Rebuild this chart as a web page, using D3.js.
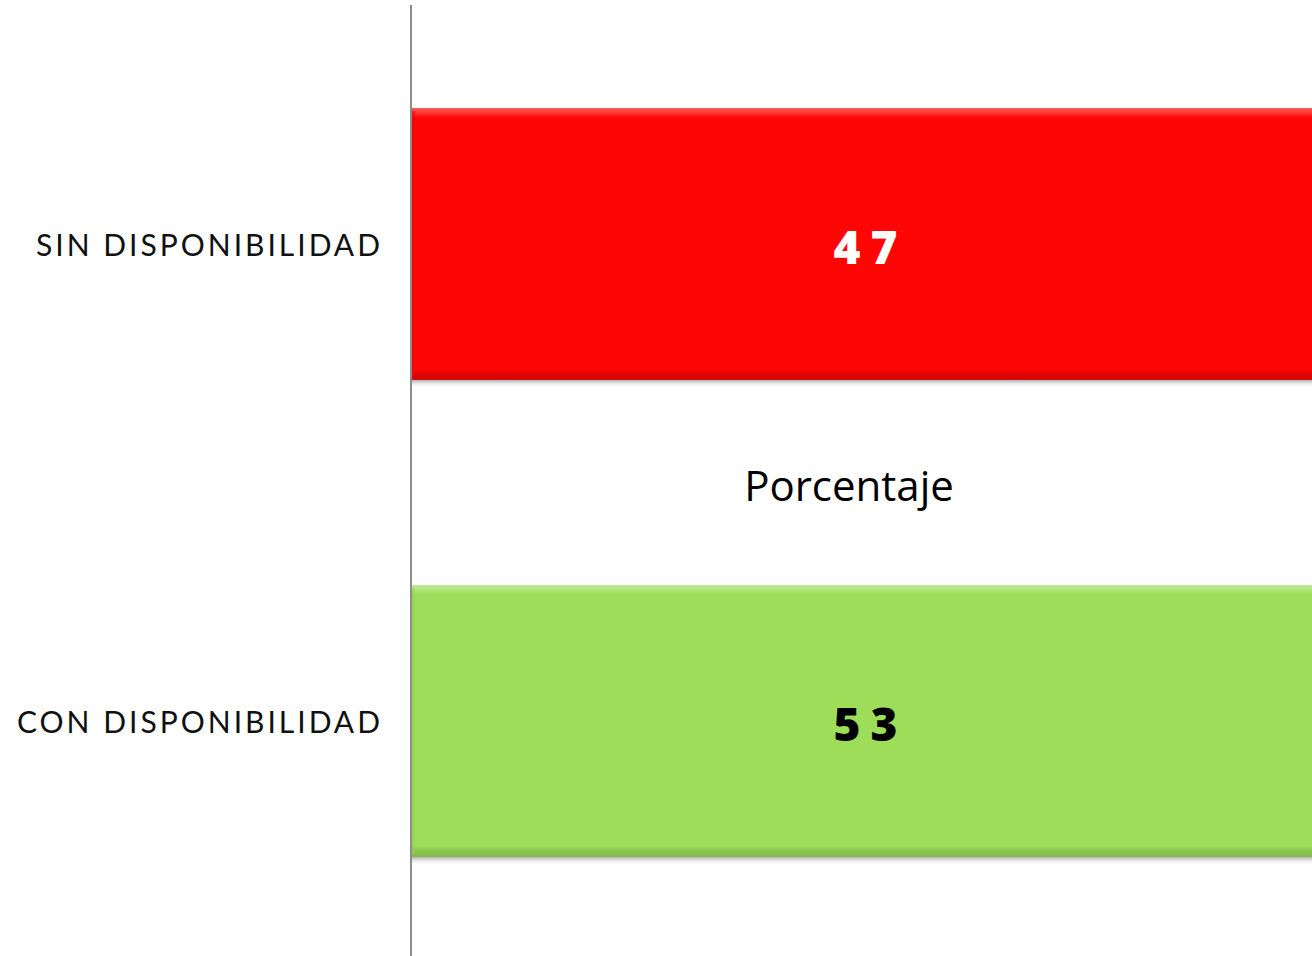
<!DOCTYPE html>
<html><head><meta charset="utf-8">
<script src="https://cdn.jsdelivr.net/npm/d3@7"></script>
<style>html,body{margin:0;padding:0;background:#fff;overflow:hidden}</style>
</head><body>
<svg id="c" width="1312" height="956"></svg>
<script>
const categories = ["SIN DISPONIBILIDAD", "CON DISPONIBILIDAD"];
const values = [47, 53];
const barColors = ["#FF0606", "#9EDD5A"];
const labelColors = ["#FFFFFF", "#000000"];
const legendLabel = "Porcentaje";

const W = 1312, H = 956;
const svg = d3.select("#c");
const defs = svg.append("defs");

const x = d3.scaleLinear().domain([0, 40]).range([411, W]);
const y = d3.scaleBand().domain(categories).range([5.5, 959.5]).paddingInner(0.43).paddingOuter(0.215);

function shade(c, k){ return d3.color(c).darker(k).formatHex(); }

categories.forEach((c,i)=>{
  const g = defs.append("linearGradient").attr("id","g"+i).attr("x1",0).attr("x2",0).attr("y1",0).attr("y2",1);
  const col = barColors[i];
  g.append("stop").attr("offset","0").attr("stop-color", d3.interpolateRgb(col,"#fff")(0.3));
  g.append("stop").attr("offset","0.012").attr("stop-color", d3.interpolateRgb(col,"#fff")(0.25));
  g.append("stop").attr("offset","0.035").attr("stop-color", col);
  g.append("stop").attr("offset","0.96").attr("stop-color", col);
  g.append("stop").attr("offset","0.975").attr("stop-color", shade(col,0.3));
  g.append("stop").attr("offset","1").attr("stop-color", shade(col,0.55));
  const sh = defs.append("linearGradient").attr("id","s"+i).attr("x1",0).attr("x2",0).attr("y1",0).attr("y2",1);
  sh.append("stop").attr("offset","0").attr("stop-color","#999").attr("stop-opacity",0.8);
  sh.append("stop").attr("offset","1").attr("stop-color","#fff").attr("stop-opacity",0);
});

const clip = defs.append("clipPath").attr("id","clip");
clip.append("rect").attr("x",0).attr("y",0).attr("width",W).attr("height",H);

const bars = svg.append("g").attr("clip-path","url(#clip)");
categories.forEach((c,i)=>{
  const y0 = y(c), bh = y.bandwidth();
  const x0 = x(0)+1, x1 = x(values[i]);
  bars.append("rect").attr("x",x0).attr("y",y0+bh).attr("width",x1-x0).attr("height",8).attr("fill","url(#s"+i+")");
  bars.append("rect").attr("x",x0).attr("y",y0).attr("width",x1-x0).attr("height",bh).attr("fill","url(#g"+i+")");
  bars.append("rect").attr("x",x0).attr("y",y0+3).attr("width",3).attr("height",bh-6).attr("fill",shade(barColors[i],0.15)).attr("opacity",0.6);
});

svg.append("line").attr("x1",x(0)).attr("x2",x(0)).attr("y1",5).attr("y2",H).attr("stroke","#8c8c8c").attr("stroke-width",2);

svg.append("g").selectAll("text").data(categories).join("text")
  .attr("x", 383).attr("y", d=>y(d)+y.bandwidth()/2)
  .attr("text-anchor","end").attr("dominant-baseline","central")
  .attr("font-family","Lato, 'Noto Sans', sans-serif").attr("font-size",30)
  .attr("letter-spacing","3px")
  .attr("fill","#111")
  .text(d=>d);

const cx = (x(0)+W)/2 + 4;
svg.append("g").selectAll("text").data(categories).join("text")
  .attr("x", cx + 5).attr("y", d=>y(d)+y.bandwidth()/2+2)
  .attr("text-anchor","middle").attr("dominant-baseline","central")
  .attr("font-family","'Open Sans', 'DejaVu Sans', sans-serif").attr("font-weight",800).attr("font-size",46)
  .attr("letter-spacing","10px")
  .attr("fill",(d,i)=>labelColors[i])
  .text((d,i)=>values[i]);

svg.append("text").attr("x",849).attr("y",484)
  .attr("text-anchor","middle").attr("dominant-baseline","central")
  .attr("font-family","'Open Sans', 'Noto Sans', sans-serif").attr("font-size",42)
  .attr("fill","#000").text(legendLabel);
</script>
</body></html>
